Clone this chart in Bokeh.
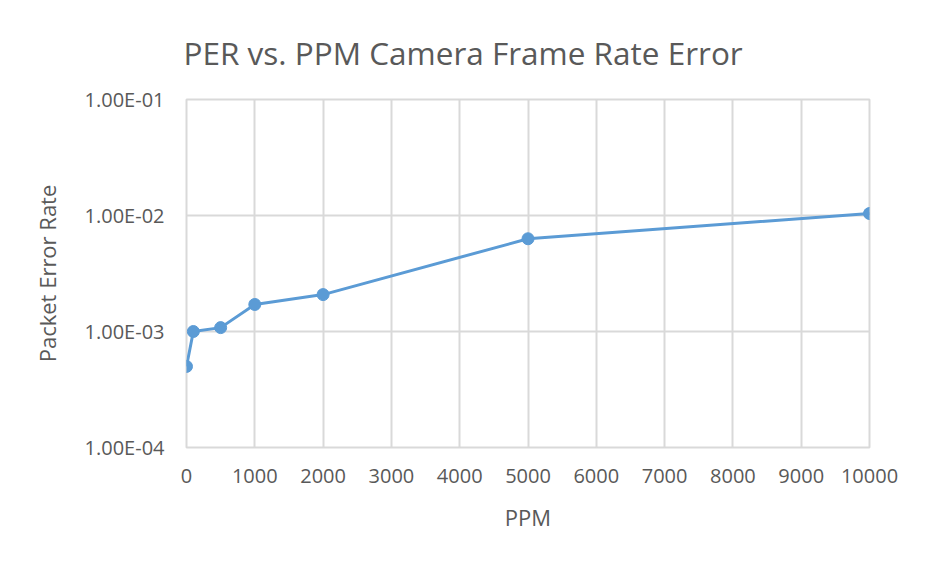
from bokeh.plotting import figure
from bokeh.models import FixedTicker, CustomJSTickFormatter, Range1d
from bokeh.embed import file_html
from bokeh.resources import INLINE

ppm = [0, 100, 500, 1000, 2000, 5000, 10000]
per = [5.0e-4, 1.0e-3, 1.08e-3, 1.71e-3, 2.08e-3, 6.3e-3, 1.04e-2]
x_ticks = [0, 1000, 2000, 3000, 4000, 5000, 6000, 7000, 8000, 9000, 10000]
y_ticks = [1e-4, 1e-3, 1e-2, 1e-1]

TXT = "#595959"
GRID = "#d9d9d9"
BLUE = "#5b9bd5"
FONT = "Open Sans"

p = figure(width=917, height=555, output_backend="svg", toolbar_location=None,
           y_axis_type="log", x_range=Range1d(0, 10000), y_range=Range1d(1e-4, 1e-1),
           min_border_left=186, min_border_right=48, min_border_top=99, min_border_bottom=108)

p.title.text = "PER vs. PPM Camera Frame Rate Error"
p.title.align = "left"
p.title.offset = -3
p.title.text_font = FONT
p.title.text_font_size = "31.5px"
p.title.text_font_style = "normal"
p.title.text_color = TXT
p.title.standoff = 52

p.line(ppm, per, line_color=BLUE, line_width=3)
p.scatter(ppm, per, size=12, fill_color=BLUE, line_color=BLUE)

p.xaxis.ticker = FixedTicker(ticks=x_ticks)
p.yaxis.ticker = FixedTicker(ticks=y_ticks, minor_ticks=[])
p.yaxis.formatter = CustomJSTickFormatter(code="""
const s = tick.toExponential(2).split('e');
const e = parseInt(s[1]);
const a = Math.abs(e);
return s[0] + 'E' + (e < 0 ? '-' : '+') + (a < 10 ? '0' : '') + a;
""")

for ax in (p.xaxis[0], p.yaxis[0]):
    ax.axis_line_color = None
    ax.major_tick_line_color = None
    ax.minor_tick_line_color = None
    ax.major_label_text_font = FONT
    ax.major_label_text_font_size = "20px"
    ax.major_label_text_color = TXT
    ax.axis_label_text_font = FONT
    ax.axis_label_text_font_size = "22px"
    ax.axis_label_text_font_style = "normal"
    ax.axis_label_text_color = TXT

p.xaxis.axis_label = "PPM"
p.yaxis.axis_label = "Packet Error Rate"
p.xaxis.major_label_standoff = 15
p.yaxis.major_label_standoff = 16
p.xaxis.axis_label_standoff = 16
p.yaxis.axis_label_standoff = 20

p.xgrid.grid_line_color = GRID
p.ygrid.grid_line_color = GRID
p.xgrid.grid_line_width = 2
p.ygrid.grid_line_width = 2
p.outline_line_color = GRID
p.outline_line_width = 2
p.background_fill_color = "white"
p.border_fill_color = "white"

open("out.html", "w").write(file_html(p, INLINE))
